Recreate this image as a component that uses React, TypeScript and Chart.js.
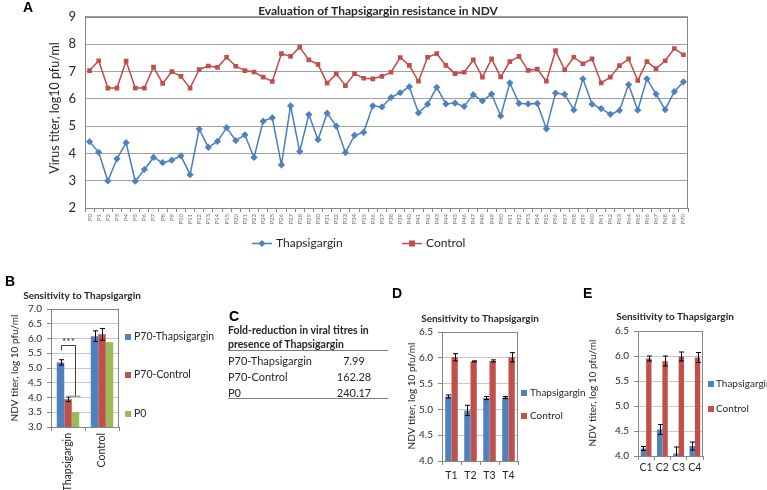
import React, { useEffect, useRef } from "react";
import { Chart, registerables } from "chart.js";
Chart.register(...registerables);

const FONT = "Lato, 'Open Sans', sans-serif";
const BLUE = "#4f81bd";
const RED = "#c0504d";
const GREEN = "#9bbb59";
const BLUE_LINE = "#4a7ebb";
const RED_LINE = "#be4b48";
const TXT = "#262626";
const AXIS = "#868686";

// ---------- Panel A ----------
const passages = [
  "P0", "P1", "P2", "P3", "P4", "P5", "P6", "P7", "P8", "P9", "P10", "P11", "P12", "P13", "P14", "P15",
  "P20", "P21", "P23", "P24", "P25", "P26", "P27", "P28", "P29", "P30", "P31", "P32", "P33", "P34", "P35",
  "P36", "P37", "P38", "P39", "P40", "P41", "P42", "P43", "P44", "P45", "P46", "P47", "P48", "P49", "P50",
  "P51", "P52", "P53", "P54", "P55", "P56", "P57", "P58", "P59", "P60", "P61", "P62", "P63", "P64", "P65",
  "P66", "P67", "P68", "P69", "P70",
];
const thapsigargin = [
  4.43, 4.04, 2.99, 3.8, 4.39, 2.98, 3.41, 3.85, 3.66, 3.75, 3.91, 3.22, 4.89, 4.22, 4.44, 4.94,
  4.47, 4.68, 3.85, 5.18, 5.3, 3.58, 5.74, 4.07, 5.42, 4.5, 5.47, 5.0, 4.03, 4.66, 4.77,
  5.74, 5.7, 6.05, 6.22, 6.44, 5.48, 5.8, 6.42, 5.81, 5.84, 5.72, 6.15, 5.92, 6.17, 5.37,
  6.58, 5.83, 5.81, 5.83, 4.9, 6.21, 6.16, 5.59, 6.73, 5.8, 5.64, 5.43, 5.57, 6.52, 5.58,
  6.73, 6.17, 5.6, 6.26, 6.62,
];
const control = [
  7.03, 7.39, 6.39, 6.39, 7.38, 6.39, 6.39, 7.16, 6.56, 6.99, 6.82, 6.39, 7.07, 7.2, 7.15, 7.52,
  7.19, 7.03, 6.98, 6.79, 6.63, 7.65, 7.55, 7.89, 7.42, 7.26, 6.57, 6.91, 6.48, 6.92, 6.75,
  6.73, 6.82, 6.97, 7.51, 7.22, 6.64, 7.52, 7.65, 7.22, 6.92, 6.97, 7.42, 6.79, 7.46, 6.8,
  7.36, 7.55, 7.04, 7.09, 6.64, 7.76, 7.06, 7.52, 7.28, 7.46, 6.58, 6.79, 7.21, 7.46, 6.67,
  7.36, 7.1, 7.39, 7.84, 7.61,
];

// ---------- Panel B ----------
const bCategories = ["Thapsigargin", "Control"];
const bP70Thapsigargin = [5.19, 6.08];
const bP70ThapsigarginErr = [0.09, 0.18];
const bP70Control = [3.94, 6.14];
const bP70ControlErr = [0.08, 0.2];
const bP0 = [3.51, 5.87];

// ---------- Panel C ----------
const foldRows = ["P70-Thapsigargin", "P70-Control", "P0"];
const foldValues = ["7.99", "162.28", "240.17"];

// ---------- Panel D ----------
const dCategories = ["T1", "T2", "T3", "T4"];
const dThapsigargin = [5.25, 4.98, 5.22, 5.23];
const dThapsigarginErr = [0.03, 0.1, 0.03, 0.02];
const dControl = [6.01, 5.93, 5.94, 6.01];
const dControlErr = [0.07, 0.01, 0.02, 0.09];

// ---------- Panel E ----------
const eCategories = ["C1", "C2", "C3", "C4"];
const eThapsigargin = [4.15, 4.53, 4.05, 4.2];
const eThapsigarginErr = [0.04, 0.1, 0.13, 0.08];
const eControl = [5.95, 5.9, 5.99, 5.97];
const eControlErr = [0.05, 0.1, 0.09, 0.1];

type Area = { cx: number; cy: number; cw: number; ch: number; L: number; T: number; R: number; B: number };

function layoutFor(a: Area) {
  return {
    padding: { left: 0, top: a.T - a.cy, right: a.cx + a.cw - a.R, bottom: 0 },
    yW: a.L - a.cx,
    xH: a.cy + a.ch - a.B,
  };
}

function txt(ctx: CanvasRenderingContext2D, s: string, x: number, y: number, font: string, align: CanvasTextAlign = "center", rot = 0, color = TXT) {
  ctx.save();
  ctx.font = font;
  ctx.fillStyle = color;
  ctx.textAlign = align;
  ctx.textBaseline = "middle";
  ctx.translate(x, y);
  if (rot) ctx.rotate(rot);
  ctx.fillText(s, 0, 0);
  ctx.restore();
}

const framePlugin = {
  id: "frame",
  afterDraw(chart: any) {
    const { ctx, chartArea: ca } = chart;
    ctx.save();
    ctx.strokeStyle = AXIS;
    ctx.lineWidth = 1;
    ctx.strokeRect(Math.round(ca.left) + 0.5, Math.round(ca.top) + 0.5, Math.round(ca.width) - 1, Math.round(ca.height));
    ctx.restore();
  },
};

const errorBarPlugin = {
  id: "errorBars",
  afterDatasetsDraw(chart: any) {
    const { ctx, chartArea: ca } = chart;
    const ys = chart.scales.y;
    ctx.save();
    ctx.beginPath();
    ctx.rect(ca.left, ca.top - 10, ca.width, ca.height + 10);
    ctx.clip();
    ctx.strokeStyle = "#000";
    ctx.lineWidth = 1;
    chart.data.datasets.forEach((ds: any, i: number) => {
      const errs = ds.errors as number[] | undefined;
      if (!errs) return;
      const meta = chart.getDatasetMeta(i);
      meta.data.forEach((el: any, j: number) => {
        const e = errs[j];
        if (!e) return;
        const v = ds.data[j];
        const x = Math.round(el.x) + 0.5;
        const y1 = ys.getPixelForValue(v + e);
        const y2 = ys.getPixelForValue(v - e);
        ctx.beginPath();
        ctx.moveTo(x, y1);
        ctx.lineTo(x, y2);
        ctx.moveTo(x - 2.5, y1);
        ctx.lineTo(x + 2.5, y1);
        ctx.moveTo(x - 2.5, y2);
        ctx.lineTo(x + 2.5, y2);
        ctx.stroke();
      });
    });
    ctx.restore();
  },
};

function square(ctx: CanvasRenderingContext2D, x: number, y: number, s: number, color: string) {
  ctx.save();
  ctx.fillStyle = color;
  ctx.fillRect(x - s / 2, y - s / 2, s, s);
  ctx.restore();
}

// ---------- Chart A ----------
const aArea: Area = { cx: 0, cy: 0, cw: 767, ch: 262, L: 85, T: 15, R: 688, B: 208 };

function makeA(): any {
  const lay = layoutFor(aArea);
  const decor = {
    id: "decorA",
    afterDraw(chart: any) {
      const ctx = chart.ctx as CanvasRenderingContext2D;
      txt(ctx, "Evaluation of Thapsigargin resistance in NDV", 378, 11, `bold 12px ${FONT}`);
      txt(ctx, "Virus titer, log10 pfu/ml", 55, 108, `12.5px ${FONT}`, "center", -Math.PI / 2);
      // legend
      const ly = 243.5;
      ctx.save();
      ctx.lineWidth = 1.5;
      ctx.strokeStyle = BLUE_LINE;
      ctx.beginPath();
      ctx.moveTo(252, ly);
      ctx.lineTo(272, ly);
      ctx.stroke();
      ctx.fillStyle = BLUE;
      ctx.beginPath();
      ctx.moveTo(262, ly - 3.5);
      ctx.lineTo(265.5, ly);
      ctx.lineTo(262, ly + 3.5);
      ctx.lineTo(258.5, ly);
      ctx.closePath();
      ctx.fill();
      ctx.strokeStyle = RED_LINE;
      ctx.beginPath();
      ctx.moveTo(402, ly);
      ctx.lineTo(422, ly);
      ctx.stroke();
      ctx.restore();
      square(ctx, 412, ly, 6, RED);
      txt(ctx, "Thapsigargin", 276, ly, `12px ${FONT}`, "left");
      txt(ctx, "Control", 426, ly, `12px ${FONT}`, "left");
    },
  };
  return {
    type: "line",
    data: {
      labels: passages,
      datasets: [
        {
          label: "Thapsigargin",
          data: thapsigargin,
          borderColor: BLUE_LINE,
          backgroundColor: BLUE,
          pointBackgroundColor: BLUE,
          pointBorderColor: BLUE,
          pointStyle: "rectRot",
          pointRadius: 3.6,
          pointBorderWidth: 0,
          borderWidth: 1.5,
        },
        {
          label: "Control",
          data: control,
          borderColor: RED_LINE,
          backgroundColor: RED,
          pointBackgroundColor: RED,
          pointBorderColor: RED,
          pointStyle: "rect",
          pointRadius: 3.3,
          pointBorderWidth: 0,
          borderWidth: 1.5,
        },
      ],
    },
    options: {
      responsive: false,
      animation: false,
      devicePixelRatio: 1,
      layout: { padding: lay.padding },
      plugins: { legend: { display: false }, title: { display: false }, tooltip: { enabled: false } },
      scales: {
        x: {
          offset: true,
          afterFit: (s: any) => { s.height = lay.xH; },
          grid: { offset: true, drawOnChartArea: false, drawTicks: true, tickLength: 4, color: AXIS },
          border: { color: AXIS },
          ticks: { autoSkip: false, minRotation: 90, maxRotation: 90, font: { size: 6, family: FONT }, color: "#707070", padding: 2 },
        },
        y: {
          min: 2,
          max: 9,
          afterFit: (s: any) => { s.width = lay.yW; },
          ticks: { stepSize: 1, autoSkip: false, font: { size: 13, family: FONT }, color: TXT, padding: 9 },
          grid: { color: "#a0a0a0", drawTicks: false },
          border: { color: AXIS },
        },
      },
    },
    plugins: [framePlugin, decor],
  };
}

// ---------- Generic small bar chart ----------
function barChart(area: Area, labels: string[], datasets: any[], yMin: number, yMax: number, xTicks: any, catPct: number, extra: (ctx: CanvasRenderingContext2D, chart: any) => void): any {
  const lay = layoutFor(area);
  return {
    type: "bar",
    data: { labels, datasets },
    options: {
      responsive: false,
      animation: false,
      devicePixelRatio: 1,
      layout: { padding: lay.padding },
      datasets: { bar: { categoryPercentage: catPct, barPercentage: 1 } },
      plugins: { legend: { display: false }, title: { display: false }, tooltip: { enabled: false } },
      scales: {
        x: {
          afterFit: (s: any) => { s.height = lay.xH; },
          grid: { offset: true, drawOnChartArea: false, drawTicks: true, tickLength: 4, color: AXIS },
          border: { color: AXIS },
          ticks: xTicks,
        },
        y: {
          min: yMin,
          max: yMax,
          afterFit: (s: any) => { s.width = lay.yW; },
          ticks: {
            stepSize: 0.5,
            autoSkip: false,
            font: { size: 10, family: FONT },
            color: TXT,
            padding: 5,
            callback: (v: any) => Number(v).toFixed(1),
          },
          grid: { color: "#c8c8c8", drawTicks: true, tickLength: 4, tickColor: AXIS },
          border: { color: AXIS },
        },
      },
    },
    plugins: [errorBarPlugin, framePlugin, { id: "decor", afterDraw: (chart: any) => extra(chart.ctx, chart) }],
  };
}

const bArea: Area = { cx: 0, cy: 270, cw: 224, ch: 220, L: 51, T: 309, R: 119, B: 427 };
function makeB(): any {
  const ox = bArea.cx, oy = bArea.cy;
  return barChart(
    bArea,
    bCategories,
    [
      { label: "P70-Thapsigargin", data: bP70Thapsigargin, errors: bP70ThapsigarginErr, backgroundColor: BLUE },
      { label: "P70-Control", data: bP70Control, errors: bP70ControlErr, backgroundColor: RED },
      { label: "P0", data: bP0, backgroundColor: GREEN },
    ],
    3,
    7,
    { autoSkip: false, minRotation: 90, maxRotation: 90, font: { size: 10.5, family: FONT }, color: TXT, padding: 2 },
    0.66,
    (ctx, chart) => {
      txt(ctx, "Sensitivity to Thapsigargin", 82 - ox, 296 - oy, `bold 10px ${FONT}`);
      txt(ctx, "NDV titer, log 10 pfu/ml", 15 - ox, 368 - oy, `10px ${FONT}`, "center", -Math.PI / 2);
      const items = [["P70-Thapsigargin", BLUE, 337], ["P70-Control", RED, 375], ["P0", GREEN, 414]] as const;
      items.forEach(([s, c, y]) => {
        square(ctx, 128 - ox, y - oy, 6, c);
        txt(ctx, s, 134 - ox, y - oy, `10.5px ${FONT}`, "left");
      });
      // significance bracket
      const ys = chart.scales.y;
      const bx = Math.round(chart.getDatasetMeta(0).data[0].x) + 0.5;
      const red = chart.getDatasetMeta(1).data[0];
      const gx = Math.round(chart.getDatasetMeta(2).data[0].x) + 0.5;
      const yTop = Math.round(ys.getPixelForValue(5.78)) + 0.5;
      const yL = ys.getPixelForValue(5.6);
      const yBot = ys.getPixelForValue(4.04);
      ctx.save();
      ctx.strokeStyle = "#404040";
      ctx.lineWidth = 1;
      ctx.beginPath();
      ctx.moveTo(bx, yL);
      ctx.lineTo(bx, yTop);
      ctx.lineTo(gx, yTop);
      ctx.lineTo(gx, yBot);
      ctx.stroke();
      ctx.strokeStyle = "#a0a0a0";
      ctx.lineWidth = 1.5;
      ctx.beginPath();
      ctx.moveTo(red.x - 2, yBot);
      ctx.lineTo(gx + 5, yBot);
      ctx.stroke();
      ctx.restore();
      txt(ctx, "***", (bx + gx) / 2, ys.getPixelForValue(5.9), `10px ${FONT}`);
    }
  );
}

const dArea: Area = { cx: 380, cy: 280, cw: 210, ch: 210, L: 442, T: 332, R: 518, B: 461 };
function makeD(): any {
  const ox = dArea.cx, oy = dArea.cy;
  return barChart(
    dArea,
    dCategories,
    [
      { label: "Thapsigargin", data: dThapsigargin, errors: dThapsigarginErr, backgroundColor: BLUE },
      { label: "Control", data: dControl, errors: dControlErr, backgroundColor: RED },
    ],
    4,
    6.5,
    { autoSkip: false, maxRotation: 0, font: { size: 10.5, family: FONT }, color: TXT, padding: 4 },
    0.66,
    (ctx) => {
      txt(ctx, "Sensitivity to Thapsigargin", 480 - ox, 319 - oy, `bold 10px ${FONT}`);
      txt(ctx, "NDV titer, log 10 pfu/ml", 412 - ox, 396 - oy, `10px ${FONT}`, "center", -Math.PI / 2);
      const items = [["Thapsigargin", BLUE, 393], ["Control", RED, 416]] as const;
      items.forEach(([s, c, y]) => {
        square(ctx, 524 - ox, y - oy, 6, c);
        txt(ctx, s, 530 - ox, y - oy, `10px ${FONT}`, "left");
      });
    }
  );
}

const eArea: Area = { cx: 585, cy: 280, cw: 182, ch: 210, L: 638, T: 331, R: 703, B: 456 };
function makeE(): any {
  const ox = eArea.cx, oy = eArea.cy;
  return barChart(
    eArea,
    eCategories,
    [
      { label: "Thapsigargin", data: eThapsigargin, errors: eThapsigarginErr, backgroundColor: BLUE },
      { label: "Control", data: eControl, errors: eControlErr, backgroundColor: RED },
    ],
    4,
    6.5,
    { autoSkip: false, maxRotation: 0, font: { size: 10.5, family: FONT }, color: TXT, padding: 1 },
    0.66,
    (ctx) => {
      txt(ctx, "Sensitivity to Thapsigargin", 675 - ox, 317 - oy, `bold 10px ${FONT}`);
      txt(ctx, "NDV titer, log 10 pfu/ml", 593 - ox, 393 - oy, `10px ${FONT}`, "center", -Math.PI / 2);
      const items = [["Thapsigargin", BLUE, 384], ["Control", RED, 409]] as const;
      items.forEach(([s, c, y]) => {
        square(ctx, 711 - ox, y - oy, 6, c);
        txt(ctx, s, 716 - ox, y - oy, `10px ${FONT}`, "left");
      });
    }
  );
}

function ChartBox({ area, make }: { area: Area; make: () => any }) {
  const ref = useRef<HTMLCanvasElement>(null);
  useEffect(() => {
    const c = new Chart(ref.current as HTMLCanvasElement, make());
    return () => c.destroy();
  }, []);
  return (
    <canvas
      ref={ref}
      width={area.cw}
      height={area.ch}
      style={{ position: "absolute", left: area.cx, top: area.cy, width: area.cw, height: area.ch }}
    />
  );
}

const letterStyle = (left: number, top: number): React.CSSProperties => ({
  position: "absolute",
  left,
  top,
  font: "bold 14px 'Liberation Sans', Arial, sans-serif",
  lineHeight: "14px",
  color: "#000",
});

export default function App() {
  return (
    <div style={{ position: "fixed", left: 0, top: 0, width: 767, height: 490, background: "#fff", overflow: "hidden" }}>
      <ChartBox area={aArea} make={makeA} />
      <ChartBox area={bArea} make={makeB} />
      <ChartBox area={dArea} make={makeD} />
      <ChartBox area={eArea} make={makeE} />
      <div style={letterStyle(23, 0)}>A</div>
      <div style={letterStyle(5, 274)}>B</div>
      <div style={letterStyle(229, 309)}>C</div>
      <div style={letterStyle(392, 286)}>D</div>
      <div style={letterStyle(583, 286)}>E</div>
      <div style={{ position: "absolute", left: 228, top: 323, width: 165, font: `bold 10.5px ${FONT}`, lineHeight: "14px", color: TXT, whiteSpace: "nowrap" }}>
        <div>Fold-reduction in viral titres in</div>
        <div>presence of Thapsigargin</div>
      </div>
      <div style={{ position: "absolute", left: 228, top: 350, width: 160, borderTop: "1.5px solid #7f7f7f" }} />
      {foldRows.map((r, i) => (
        <div key={r} style={{ position: "absolute", left: 228, top: 354 + i * 16, width: 160, height: 14, font: `11px ${FONT}`, lineHeight: "14px", color: TXT }}>
          <span style={{ position: "absolute", left: 0 }}>{r}</span>
          <span style={{ position: "absolute", left: 106, width: 40, textAlign: "center" }}>{foldValues[i]}</span>
        </div>
      ))}
      <div style={{ position: "absolute", left: 228, top: 398, width: 160, borderTop: "1.5px solid #7f7f7f" }} />
    </div>
  );
}
